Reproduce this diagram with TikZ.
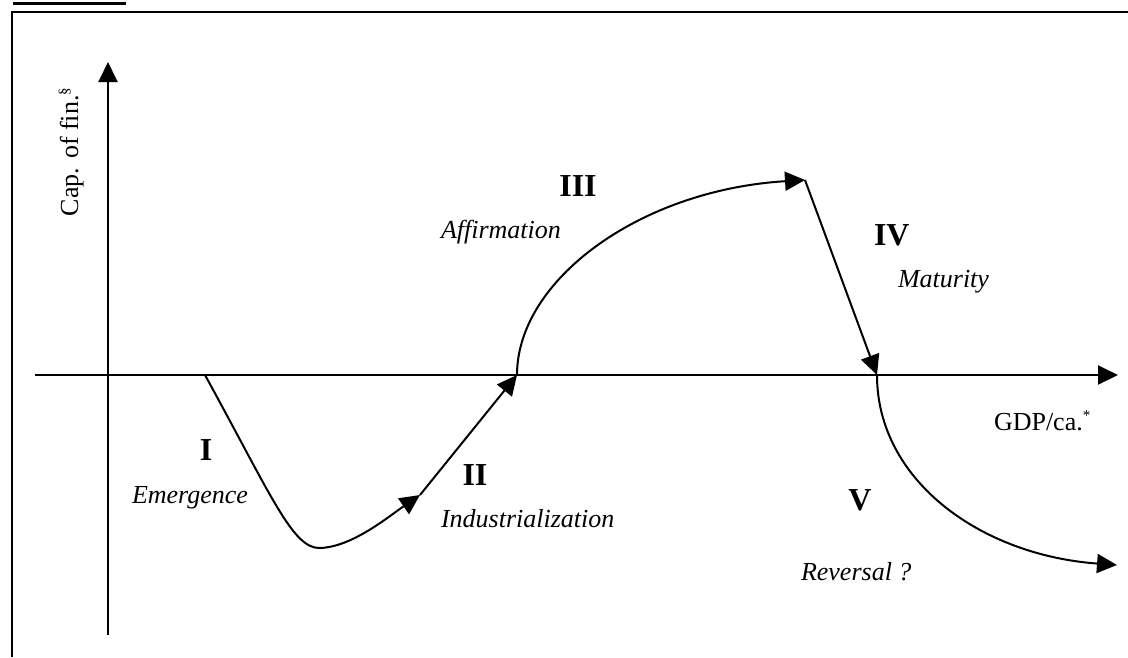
\documentclass[tikz,border=0pt]{standalone}
\usepackage{fontspec}
\setmainfont{Liberation Serif}
\usetikzlibrary{arrows.meta}
\tikzstyle{phase}=[font=\fontsize{32}{36}\selectfont\bfseries,inner sep=0pt]
\tikzstyle{stage}=[font=\fontsize{26}{30}\selectfont\itshape,inner sep=0pt]
\tikzstyle{axlabel}=[font=\fontsize{26}{30}\selectfont,inner sep=0pt]
\tikzstyle{trend}=[-{Triangle[length=20pt,width=19pt]}, line width=2pt]

\begin{document}
\begin{tikzpicture}[x=1pt,y=-1pt,trend]
\useasboundingbox (0,0) rectangle (1128,657);
% frame and caption rule
\draw[-,line width=2.5pt] (12,657) -- (12,12) -- (1128,12);
\draw[-,line width=3pt] (13,3) -- (126,3);
% axes
\coordinate (ybot) at (108,635);
\coordinate (ytop) at (108,62);
\coordinate (xleft) at (35,375);
\coordinate (xright) at (1118,375);
\draw (ybot)--(ytop);
\draw (xleft)--(xright);
\node[axlabel,rotate=90,anchor=base west] (yl) at (78,217) {Cap. of fin.\textsuperscript{\fontsize{15}{15}\selectfont §}};
\node[axlabel,anchor=base west] (xl) at (993,430) {GDP/ca.\textsuperscript{\fontsize{15}{15}\selectfont *}};
% path points
\coordinate (p0) at (205,375);
\coordinate (p1) at (420,495);
\coordinate (p2) at (517,375);
\coordinate (p3) at (805,180);
\coordinate (p4) at (877,375);
\coordinate (p5) at (1117,565);
\draw (p0) .. controls (272,497) and (293,549) .. (320,548) .. controls (352,547) and (388,517) .. (p1);
\draw (p1)--(p2);
\draw (p2) .. controls (517,280) and (640,190) .. (p3);
\draw (p3)--(p4);
\draw (p4) .. controls (877,480) and (980,555) .. (p5);
% stages
\node[phase,anchor=base] (n1) at (206,460) {I};
\node[stage,anchor=base] (e1) at (190,503) {Emergence};
\node[phase,anchor=base] (n2) at (475,485) {II};
\node[stage,anchor=base west] (e2) at (440,527) {Industrialization};
\node[phase,anchor=base] (n3) at (578,196) {III};
\node[stage,anchor=base west] (e3) at (440,238) {Affirmation};
\node[phase,anchor=base west] (n4) at (873,245) {IV};
\node[stage,anchor=base west] (e4) at (897,287) {Maturity};
\node[phase,anchor=base] (n5) at (860,510) {V};
\node[stage,anchor=base west] (e5) at (800,580) {Reversal ?};
\end{tikzpicture}
\end{document}
